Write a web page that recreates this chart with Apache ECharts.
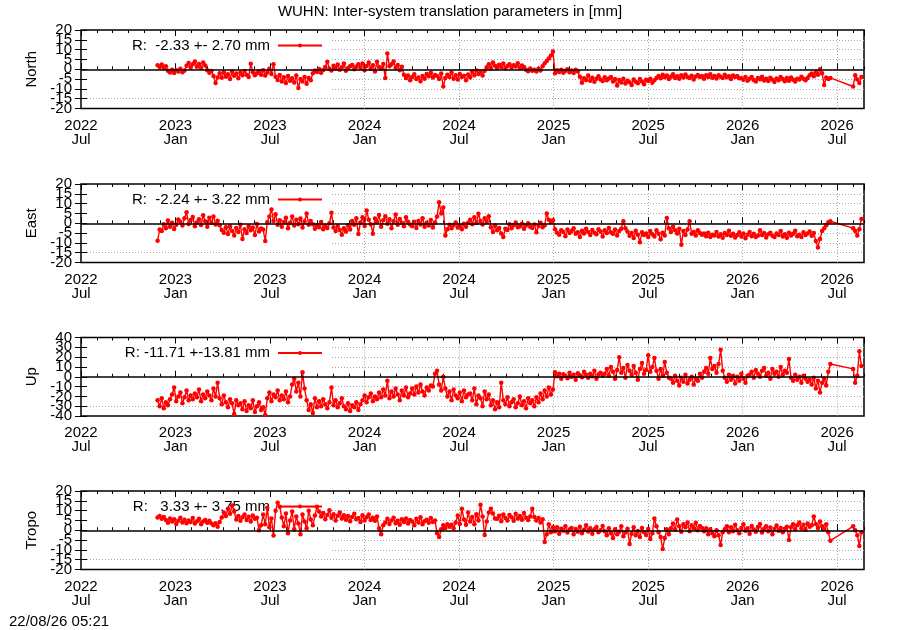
<!DOCTYPE html>
<html><head><meta charset="utf-8">
<script src="https://cdn.jsdelivr.net/npm/echarts@6/dist/echarts.min.js"></script>
<style>html,body{margin:0;padding:0;background:#fff}#chart{width:900px;height:630px}</style>
</head><body><div id="chart"></div>
<script>
// ---------------- data ----------------
const titleText = 'WUHN: Inter-system translation parameters in [mm]';
const stampText = '22/08/26 05:21';
const axisOrigin = '2022-07-01';
const axisEnd = '2026-08-22';
const sampleStart = '2022-11-26';
const sampleStepDays = 4;
const xTickLabels = ['2022\nJul','2023\nJan','2023\nJul','2024\nJan','2024\nJul','2025\nJan','2025\nJul','2026\nJan','2026\nJul'];
const panelNames = ['North','East','Up','Tropo'];
const legendTexts = ['R:  -2.33 +- 2.70 mm','R:  -2.24 +- 3.22 mm','R: -11.71 +-13.81 mm','R:   3.33 +- 3.75 mm'];
const yLimits = [20, 20, 40, 20];
const ySteps = [5, 5, 10, 5];

const northValues = [
 2.0,1.2,2.4,0.8,1.5,
 -0.8,-1.6,-0.2,-1.9,-0.5,-1.2,0.3,-1.5,-0.6,
 1.8,3.2,0.9,2.5,4.0,1.3,2.7,0.6,3.4,1.9,
 -0.5,-1.8,-0.9,
 -3.5,-7.0,-4.2,
 -2.1,-4.3,-1.5,-3.8,-2.6,-5.0,-1.2,-3.3,-2.2,-4.6,-1.8,-3.1,-0.9,-2.8,-4.0,
 2.8,
 -1.5,-3.0,-2.0,
 -1.0,-2.8,-0.5,-3.2,-1.6,0.2,-2.4,2.6,
 -3.8,-5.5,-2.9,-6.2,-4.1,-7.0,-3.5,-5.8,-4.6,-6.8,-3.2,-9.6,-5.0,-6.3,-3.9,-7.4,-4.4,-5.6,
 -2.0,-0.6,-1.4,0.1,-1.8,-0.4,
 1.2,3.8,0.3,-0.6,1.8,0.5,2.4,-0.2,1.0,2.9,-0.8,0.6,1.5,2.2,0.0,1.3,2.6,
 0.8,2.9,-0.5,1.6,3.4,0.2,2.0,-1.2,3.8,1.1,0.4,2.7,-4.5,8.0,1.5,2.6,
 4.0,0.8,2.2,-0.5,1.3,
 -2.8,-4.5,-3.2,-5.6,-3.9,-2.5,-5.0,-4.2,-6.1,-3.4,-4.8,
 -2.4,-3.6,-1.8,-4.2,-2.9,-3.5,-5.0,-2.2,
 -8.8,
 -4.5,-2.8,-3.9,-1.6,-4.8,-3.0,-5.2,-2.4,-4.0,-3.3,-5.6,-2.7,-4.2,
 -1.2,-3.0,-0.6,-2.4,-1.5,-3.2,-0.8,
 1.0,2.6,0.4,3.4,1.8,0.7,2.3,1.2,2.9,0.5,1.7,2.5,0.9,2.0,1.4,3.0,0.6,1.9,1.1,
 -0.2,-1.0,0.4,-0.8,-0.3,-1.2,0.2,-0.6,
 1.5,3.0,4.2,5.5,7.0,9.0,
 -2.0,-0.5,-1.4,-0.2,-1.8,-0.8,0.0,-1.5,-0.6,-1.9,-0.3,-1.1,
 -3.8,-6.9,-4.6,-5.5,-3.2,-5.9,-4.3,-6.4,-4.9,-3.6,-5.2,-6.0,-4.1,-5.6,-4.7,-3.9,-6.2,-5.0,
 -8.3,-5.5,-6.8,-4.9,-7.2,-5.8,-6.6,-8.0,-5.2,-6.4,-7.1,-5.0,-6.2,-7.6,-5.4,-6.0,-4.8,-6.9,-5.6,-4.5,
 -3.5,-4.6,-2.8,-4.1,-3.2,-5.0,-3.8,-2.5,-4.4,-3.6,-4.9,-3.0,-4.2,-2.7,-3.9,-4.5,-3.3,-5.2,-3.7,-2.9,
 -4.0,-3.4,-4.8,-3.1,-3.9,-2.6,-4.3,-3.5,-4.7,-3.0,-3.8,-4.4,-2.8,-4.1,-3.6,-5.0,-3.2,-4.0,-3.5,-4.6,
 -4.6,-5.4,-4.0,-5.8,-4.8,-3.9,-5.5,-6.2,-4.4,-5.1,-3.8,-5.7,-4.9,-6.0,-4.3,-5.3,-6.5,-4.7,-5.6,-3.9,
 -5.0,-6.1,-4.5,-5.8,-4.2,-5.4,-6.3,-4.8,-5.2,-3.8,-4.9,-5.6,-4.4,
 -3.0,-2.2,-3.6,-1.5,-2.8,0.0,-2.0,
 -8.0,
 -4.2,-5.0,-4.4,
 null,null,null,null,null,null,null,null,null,null,
 -8.8,-3.0,-5.2,-7.0,-4.0
];

const eastValues = [
 -8.9,
 -3.2,-4.0,
 -0.5,-2.6,1.4,-1.8,0.2,-2.9,-0.8,1.9,
 0.8,-1.2,2.5,5.6,-0.4,1.6,3.2,-1.5,0.4,2.1,-0.9,4.1,1.0,-1.8,2.8,0.2,3.5,-0.6,1.3,
 -1.0,-3.4,-4.8,-2.0,-5.5,-1.6,-3.9,-6.2,-2.4,-4.4,-0.8,-8.0,-3.0,-5.0,-1.5,-3.6,-2.2,-6.0,-0.4,-4.2,-2.7,-3.2,-9.0,
 0.5,3.5,7.0,1.2,4.6,-0.8,
 1.5,-1.8,0.6,2.8,-2.6,0.2,3.4,-1.2,1.8,-0.5,2.4,-2.2,0.9,5.0,-0.8,1.2,
 -0.5,-2.8,-1.0,-2.0,0.6,-3.0,-1.4,-2.4,0.0,5.3,
 -2.2,-4.0,-1.5,-3.5,-5.8,-2.6,-4.2,-1.0,-3.2,
 1.2,-0.8,2.6,-5.5,0.4,3.0,-1.4,6.5,1.8,-0.5,-5.4,2.4,0.6,4.2,-1.8,1.5,3.6,-0.2,2.0,-2.5,1.0,4.5,-0.8,2.2,0.2,-1.5,3.0,0.8,-0.6,
 -1.5,0.8,-2.4,1.2,-0.6,2.5,-1.8,0.2,-1.2,1.6,-2.2,0.4,
 3.5,10.7,5.0,8.0,
 -6.3,-3.0,
 -0.8,-2.6,-1.0,0.4,-2.2,-1.4,-3.0,-0.2,-1.8,0.2,
 1.8,-0.5,3.0,0.2,4.8,1.2,-0.6,2.5,0.8,3.6,
 -2.0,-4.4,-1.2,-3.6,-2.4,-5.2,-7.0,-2.8,-3.4,
 -0.5,-2.5,-1.0,0.4,-2.0,-1.6,-0.2,-2.8,-1.2,0.0,-1.8,-2.4,-0.6,-4.6,-1.4,0.2,-2.0,-1.0,
 5.0,1.8,0.6,1.5,
 -3.0,-4.8,-5.8,-3.6,-4.4,-6.6,-3.2,-5.0,-4.0,-2.6,-5.4,-4.6,-7.0,-3.8,-5.2,-2.8,-4.4,-6.0,-3.4,-4.8,
 -5.6,-3.0,-4.2,-6.8,-3.6,-5.0,-2.4,-4.6,-5.4,-3.2,-6.2,-4.0,-2.8,
 1.0,-2.5,
 -4.2,-6.4,-5.0,-7.5,-3.8,-5.8,-9.7,-4.6,-6.0,-5.2,-7.0,-4.0,-5.6,-6.8,-3.6,-5.4,-8.2,-4.8,-6.2,
 2.7,
 -2.6,-4.4,-1.8,-3.6,-5.2,-2.8,-11.0,
 -4.0,-6.0,-3.2,1.0,-5.4,-4.4,-6.2,-3.6,-5.0,-5.8,
 -5.2,-6.6,-4.8,-7.0,-5.8,-6.2,-4.4,-6.8,-5.6,-7.4,-5.0,-6.0,-3.8,-6.4,-5.4,-7.2,-6.0,-4.6,-6.8,-5.2,
 -7.6,-5.8,-4.4,-6.6,-5.4,-7.0,-6.2,-3.6,-6.0,-5.0,-7.2,-5.6,-4.8,-6.4,-7.0,-5.2,-6.0,-4.0,-6.8,-5.6,
 -7.4,-4.8,-6.2,-5.4,-3.8,-6.6,-5.8,-7.0,-4.6,-6.0,-5.2,-4.2,-6.4,-5.0,
 -9.0,-12.3,-8.0,
 -4.0,-2.5,-1.0,0.5,1.0,
 null,null,null,null,null,null,null,null,null,null,
 -2.5,-4.0,-6.3,-3.0,2.2
];

const upValues = [
 -24,-30,-22,-32,-26,-29,-23,
 -18,-11,-25,-20,-16,-27,-21,-14,-24,-19,
 -23,-17,-21,-13,-25,-18,-22,-15,-19,-24,-12,-20,-6,
 -22,-28,-19,-26,-31,-23,-27,-38,-24,-29,
 -27,-33,-25,-35,-29,-32,-24,-36,-30,-26,-34,-31,-39,
 -22,-16,-25,-18,-21,-14,-24,-19,-23,-15,-26,-20,
 -8,-2,-15,-6,-20,4.5,-12,
 -24,-34,-28,-37,-22,-31,
 -25,-30,-23,-28,-32,-26,-11,-29,-24,-31,-27,-22,-30,
 -33,-27,-35,-29,-31,-26,-34,-28,
 -24,-19,-26,-21,-17,-25,-20,-23,
 -16,-21,-13,-19,-4,-22,-15,-20,-12,-18,-24,-14,-19,-11,-21,-17,
 -12,-18,-10,-16,-8,-15,-19,-11,-14,-9,
 -10,3,6,-8,-14,0,-12,
 -20,-15,-24,-13,-19,-22,-16,-25,-14,-21,-18,
 -17,-24,-12,-28,-19,-22,-30,-15,-23,-18,
 -29,-24,-33,-26,-31,-6,
 -24,-28,-21,-30,-26,-23,-31,-27,-20,-29,-25,-32,-22,-27,-24,-30,-21,-26,-17,-23,-14,-20,-11,-18,-13,
 4.5,0.5,3.0,-2.0,2.5,1.0,-1.5,4.0,0.0,2.0,-3.0,3.5,1.5,-0.5,5.0,2.0,-1.0,3.0,0.5,6.0,-2.0,2.5,4.0,1.0,
 3,8,1,10,5,-2,7,20,4,9,-1,12,6,2,11,4,-3,8,14,3,7,22,5,10,19,
 6,-2,8,1,15,4,-1,
 -2,-6,1,-4,-9,-1,-5,2,-7,-3,0,-8,-2,-4,3,-1,
 5,9,3,19,8,11,4,13,27.6,6,
 -1,-5,2,-3,1,-7,0,-4,3,-2,-6,1,
 2,5,-1,7,3,0,6,9,1,4,-2,8,3,5,0,10,2,6,4,18,
 -1,-4,2,-3,0,-6,1,-2,-5,
 -3,-8,-1,-12,-4,-16,-6,-2,-9,
 5,13,
 null,null,null,null,null,null,null,null,null,null,
 8,-6,1,26,11
];

const tropoValues = [
 6.5,7.2,5.8,6.8,
 5.2,3.8,6.0,4.4,5.6,3.2,4.8,6.4,4.0,5.4,3.6,5.0,4.2,6.2,3.4,4.6,5.8,3.0,4.4,5.2,3.8,4.9,3.5,
 2.5,3.6,1.8,4.2,
 6.5,9.0,7.2,11.0,8.4,12.6,9.5,
 5.5,7.2,4.8,6.6,8.0,5.2,6.9,4.5,7.5,5.8,6.4,
 0.0,2.5,
 8.0,3.0,11.5,1.5,6.0,-2.7,10.0,14.0,
 12.0,6.5,2.0,8.5,-1.5,5.0,9.5,0.5,7.0,3.5,-2.0,8.0,4.5,1.0,10.0,5.5,2.5,7.5,
 12.0,9.5,7.0,8.8,5.6,7.8,10.2,6.4,8.2,5.0,7.4,9.0,6.0,7.6,
 5.4,7.2,4.6,6.8,8.4,5.6,6.2,4.2,7.6,5.0,6.6,8.0,5.2,6.4,4.8,7.0,
 1.0,-2.0,2.5,
 4.0,5.8,3.2,5.0,6.4,3.6,4.8,2.8,5.6,4.2,6.0,3.4,5.2,4.4,2.6,5.8,4.0,6.6,3.0,4.6,5.4,3.8,6.2,4.2,5.0,
 -1.5,-3.5,0.5,
 2.5,1.2,3.0,1.8,2.8,1.0,
 4.0,7.5,3.2,11.0,5.5,2.8,9.0,4.4,6.8,3.0,8.2,5.0,
 13.0,7.0,-2.4,4.5,9.0,
 11.0,8.5,6.0,
 5.8,7.4,4.6,8.0,6.2,5.0,7.8,6.6,4.8,8.4,6.0,7.2,5.4,8.8,6.4,5.2,7.0,11.0,6.8,
 5.0,6.2,4.0,5.6,
 -6.0,-2.0,
 3.0,-1.0,1.5,
 -0.5,1.5,-1.8,0.8,-0.2,2.0,-1.2,0.4,1.2,-2.0,0.6,-0.8,1.8,-1.5,0.2,2.5,-0.6,1.0,-1.8,0.5,1.6,-1.0,0.0,2.2,
 -0.5,-2.5,1.0,-1.5,-4.0,0.5,-2.0,-0.8,2.0,-3.0,-1.2,0.8,-7.0,-1.8,1.5,-2.6,-0.4,-3.5,1.2,-1.0,-2.4,0.6,-4.5,-1.5,
 6.0,2.0,-1.0,-3.5,-9.5,-4.0,0.5,-2.0,
 1.0,3.5,0.2,5.5,2.0,-0.8,3.0,1.5,4.0,-0.5,2.5,1.0,3.8,0.0,2.2,1.2,
 -0.5,1.0,-2.0,0.5,-1.5,-3.0,0.0,-2.5,-7.5,-1.0,
 0.5,2.0,-1.0,1.5,-0.5,2.8,0.0,-1.5,1.2,3.0,-0.2,1.0,-1.8,2.2,0.4,-0.8,1.6,3.2,-1.2,0.8,
 2.0,-0.5,1.4,-2.0,0.6,2.4,-0.2,1.2,-1.0,0.8,1.8,-5.0,
 1.5,3.0,0.5,2.5,4.0,1.0,2.8,0.2,3.5,1.8,2.6,7.0,3.2,1.2,4.5,2.0,0.5,3.0,
 -1.0,-5.3,
 null,null,null,null,null,null,null,null,null,null,
 2.0,0.0,-2.5,-8.0,-1.0
];
// out-of-order link seen in the Tropo file (joins these two samples)
const tropoLinkIdx = [59, 77];

const panelValues = [northValues, eastValues, upValues, tropoValues];

// ---------------- layout ----------------
const FONT = 'Liberation Sans, Arial, Helvetica, sans-serif';
const FS = 15;
const DAY = 86400000;
const dayOf = s => Math.round((Date.parse(s) - Date.parse(axisOrigin)) / DAY);
const xMax = dayOf(axisEnd);
const x0 = dayOf(sampleStart);
const majorStep = 182.625, minorStep = 30.4375;
const W = 900, plotLeft = 81, plotRight = 864, keyRight = 332;
const gridTops = [30, 184, 337.5, 491], plotH = 78.5;
const RED = '#ff0000';
const GRIDC = '#a8a8a8';
const CLEAR = 'rgba(0,0,0,0)';
const sampleX = i => x0 + i * sampleStepDays;

const grids = [], xAxes = [], yAxes = [], series = [], legends = [];
const hidden = {show: false};
// vertical dotted lines: hidden for the first two majors (behind the key), shown after
const vColors = [CLEAR, CLEAR, GRIDC, GRIDC, GRIDC, GRIDC, GRIDC, GRIDC];

panelNames.forEach((name, k) => {
  const top = gridTops[k];
  const R = yLimits[k], st = ySteps[k];
  const nLines = Math.round(2 * R / st) - 1; // inner horizontal lines
  const gA = grids.length;
  grids.push({left: plotLeft, width: plotRight - plotLeft, top: top, height: plotH,
              show: true, borderColor: '#000', borderWidth: 1.5, backgroundColor: 'transparent'});
  const gB = grids.length;
  grids.push({left: keyRight, width: plotRight - keyRight, top: top, height: plotH, show: false});
  // label grid: one y-step larger on each side so every printed label is an inner tick
  const padPx = plotH * st / (2 * R);
  const gC = grids.length;
  grids.push({left: plotLeft, width: plotRight - plotLeft, top: top - padPx, height: plotH + 2 * padPx, show: false});

  const xMain = xAxes.length;
  const tickBase = (pos, step, len, labels) => ({
    type: 'value', gridIndex: gA, position: pos, min: 0, max: xMax, interval: step,
    axisLine: hidden,
    splitLine: labels ? {show: true, showMinLine: false, showMaxLine: false, lineStyle: {color: vColors, width: 1, type: [1, 2]}} : hidden,
    axisTick: {show: true, inside: true, length: len, lineStyle: {color: '#000', width: 1}},
    axisLabel: labels ? {
      show: true, color: '#000', fontSize: FS, fontFamily: FONT, margin: 10, lineHeight: 14,
      showMinLabel: true, showMaxLabel: false,
      formatter: v => { const j = Math.round(v / majorStep); return (Math.abs(v - j * majorStep) < 1 && xTickLabels[j]) ? xTickLabels[j] : ''; }
    } : hidden
  });
  xAxes.push(tickBase('bottom', majorStep, 6, true));
  xAxes.push(tickBase('bottom', minorStep, 3, false));
  xAxes.push(tickBase('top', majorStep, 6, false));
  xAxes.push(tickBase('top', minorStep, 3, false));
  xAxes.push({type: 'value', gridIndex: gB, min: 0, max: 1, show: false});
  xAxes.push({type: 'value', gridIndex: gC, min: 0, max: 1, show: false});

  const yMain = yAxes.length;
  const aColors = [GRIDC]; for (let j = 1; j < nLines; j++) aColors.push(CLEAR);
  yAxes.push({type: 'value', gridIndex: gA, position: 'left', min: -R, max: R, interval: st,
    name: name, nameLocation: 'middle', nameGap: 42,
    nameTextStyle: {color: '#000', fontSize: FS, fontFamily: FONT},
    axisLine: hidden, axisLabel: hidden,
    axisTick: {show: true, inside: true, length: 6, lineStyle: {color: '#000'}},
    splitLine: {show: true, showMinLine: false, showMaxLine: false, lineStyle: {color: aColors, width: 1, type: [1, 2]}}});
  yAxes.push({type: 'value', gridIndex: gA, position: 'right', min: -R, max: R, interval: st,
    axisLine: hidden, axisLabel: hidden, splitLine: hidden,
    axisTick: {show: true, inside: true, length: 6, lineStyle: {color: '#000'}}});
  const bColors = [CLEAR]; for (let j = 1; j < nLines; j++) bColors.push(GRIDC);
  yAxes.push({type: 'value', gridIndex: gB, min: -R, max: R, interval: st,
    axisLine: hidden, axisTick: hidden, axisLabel: hidden,
    splitLine: {show: true, showMinLine: false, showMaxLine: false, lineStyle: {color: bColors, width: 1, type: [1, 2]}}});
  yAxes.push({type: 'value', gridIndex: gC, position: 'left', min: -R - st, max: R + st, interval: st,
    axisLine: hidden, axisTick: hidden, splitLine: hidden,
    axisLabel: {show: true, color: '#000', fontSize: FS, fontFamily: FONT, margin: 9,
      showMinLabel: false, showMaxLabel: false, hideOverlap: false,
      formatter: v => Math.abs(v) > R + 1e-6 ? '' : String(Math.round(v))}});

  const vals = panelValues[k];
  const pts = [];
  vals.forEach((v, i) => { if (v !== null) pts.push([sampleX(i), v]); });
  series.push({
    type: 'line', name: legendTexts[k], xAxisIndex: xMain, yAxisIndex: yMain, data: pts,
    symbol: 'circle', symbolSize: 4.5, showSymbol: true, z: 3,
    itemStyle: {color: RED, borderWidth: 0}, lineStyle: {color: RED, width: 1.4}, emphasis: {disabled: true},
    animation: false,
    markLine: {silent: true, symbol: ['none', 'none'], label: {show: false}, animation: false,
      lineStyle: {color: '#000', width: 1.5, type: 'solid'}, emphasis: {disabled: true}, data: [{yAxis: 0}]}
  });
  if (k === 3) {
    series.push({type: 'line', xAxisIndex: xMain, yAxisIndex: yMain, z: 3, animation: false,
      data: tropoLinkIdx.map(i => [sampleX(i), vals[i]]), symbol: 'none',
      lineStyle: {color: RED, width: 1}, emphasis: {disabled: true}});
  }
  legends.push({data: [legendTexts[k]], right: W - 323, top: top + 8, align: 'right', orient: 'horizontal',
    itemWidth: 44, itemHeight: 5, padding: 0, z: 1, selectedMode: false,
    textStyle: {color: '#000', fontSize: FS, fontFamily: FONT, padding: [0, 3, 0, 0]}});
});

const chart = echarts.init(document.getElementById('chart'), null, {renderer: 'canvas'});
chart.setOption({
  animation: false,
  backgroundColor: '#fff',
  textStyle: {fontFamily: FONT, color: '#000'},
  title: [
    {text: titleText, left: 'center', top: 4, padding: 0, textStyle: {fontSize: FS, fontWeight: 'normal', color: '#000', fontFamily: FONT}},
    {text: stampText, left: 9, top: 614, padding: 0, textStyle: {fontSize: FS, fontWeight: 'normal', color: '#000', fontFamily: FONT}}
  ],
  legend: legends,
  grid: grids,
  xAxis: xAxes,
  yAxis: yAxes,
  series: series
});
</script>
</body></html>
